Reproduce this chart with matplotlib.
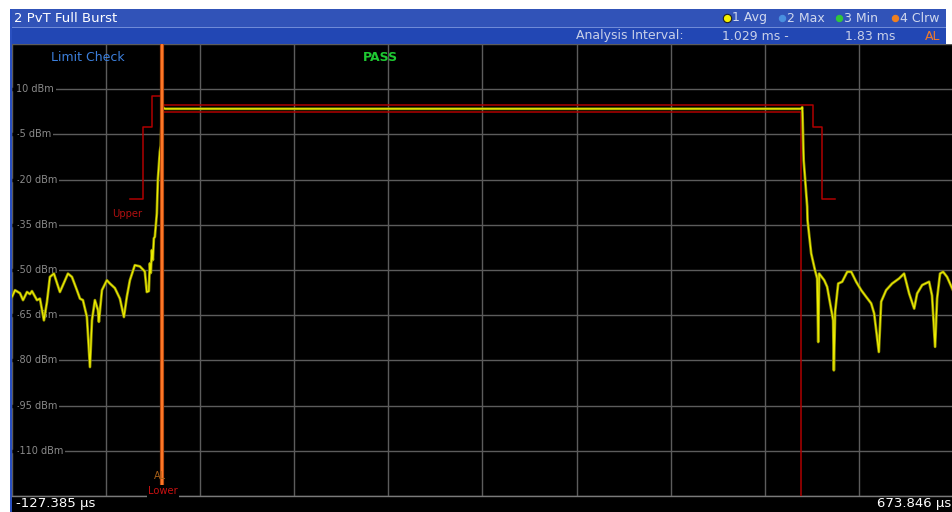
import numpy as np
import matplotlib
matplotlib.use("Agg")
import matplotlib.pyplot as plt
from matplotlib.patches import Rectangle

# ---------------- data ----------------
x_start_us = -127.385
x_stop_us = 673.846
y_top_dbm = 25
y_bottom_dbm = -125
y_tick_values = [10, -5, -20, -35, -50, -65, -80, -95, -110]
y_tick_labels = ["10 dBm", "-5 dBm", "-20 dBm", "-35 dBm", "-50 dBm",
                 "-65 dBm", "-80 dBm", "-95 dBm", "-110 dBm"]

trace_time_us = [
    -127.4, -124.8, -120.6, -118.0, -114.6, -112.1, -110.4, -106.1, -103.6, -100.2,
    -97.6, -95.1, -91.7, -86.6, -84.0, -79.75, -76.35, -72.1, -69.5, -67.0,
    -63.6, -61.0, -59.3, -56.8, -54.2, -53.4, -50.8, -46.6, -44.0, -39.8,
    -35.5, -32.1, -29.6, -27.0, -22.8, -18.5, -14.3, -12.6, -10.9, -10.0,
    -9.2, -8.3, -7.45, -6.6, -5.75, -4.05, -3.2, -1.5, -0.7, 0.2,
    1.0, 2.8, 544.6, 545.5, 545.7, 546.7, 548.0, 549.7, 550.0, 553.1,
    556.3, 558.2, 559.1, 559.9, 564.2, 566.7, 571.8, 572.4, 573.5, 576.1,
    579.5, 583.8, 587.2, 591.4, 595.7, 599.9, 604.2, 606.7, 610.7, 612.7,
    616.9, 622.0, 628.0, 632.2, 636.5, 640.8, 643.3, 647.6, 653.5, 656.0,
    658.6, 660.3, 662.8, 665.4, 668.8, 673.8,
]
trace_dbm = [
    -58.9, -56.7, -57.7, -60.0, -57.3, -58.0, -57.0, -60.0, -59.5, -66.7,
    -60.6, -52.3, -51.2, -57.3, -55.0, -51.2, -52.3, -56.7, -59.5, -60.0,
    -65.6, -82.2, -66.7, -60.0, -63.3, -67.2, -56.7, -53.4, -54.5, -56.0,
    -59.5, -65.6, -58.9, -53.4, -48.4, -48.8, -50.5, -57.3, -57.0, -47.8,
    -51.0, -43.4, -46.7, -39.5, -39.0, -31.2, -20.2, -10.8, -8.6, 3.0,
    4.0, 3.5, 3.5, 4.0, 2.0, -13.6, -20.2, -29.0, -33.5, -44.5,
    -50.0, -52.8, -73.9, -51.2, -53.4, -55.6, -66.7, -83.3, -63.8, -54.5,
    -53.9, -50.6, -50.6, -53.9, -56.7, -58.9, -61.1, -64.4, -77.2, -60.5,
    -56.7, -54.5, -52.8, -51.2, -57.8, -62.8, -57.8, -55.0, -53.9, -58.5,
    -75.5, -59.5, -51.2, -50.6, -52.3, -56.7,
]

upper_time_us = [-27.0, -16.2, -16.2, -8.6, -8.6, 1.3, 1.3, 555.0, 555.0, 562.4, 562.4, 573.2]
upper_dbm = [-26.3, -26.3, -2.5, -2.5, 7.8, 7.8, 4.7, 4.7, -2.4, -2.4, -26.3, -26.3]

lower_time_us = [0.5, 0.5, 544.3, 544.3]
lower_dbm = [-125, 2.3, 2.3, -125]

al_line_us = 0.2

legend_items = ["1 Avg", "2 Max", "3 Min", "4 Clrw"]
legend_colors = ["#f4f000", "#4a90e0", "#30c83a", "#f08020"]

# ---------------- figure ----------------
W, H = 953, 512
fig = plt.figure(figsize=(W / 100, H / 100), dpi=100, facecolor="white")
plt.rcParams['font.family'] = ['DejaVu Sans']

# chrome overlay (pixel coordinates)
ov = fig.add_axes([0, 0, 1, 1], zorder=0)
ov.set_xlim(0, W)
ov.set_ylim(H, 0)
ov.axis("off")
ov.add_patch(Rectangle((11, 9), 935, 17.5, facecolor="#3153b8", edgecolor="none"))
ov.add_patch(Rectangle((11, 26.5), 935, 1.5, facecolor="#6f8bd8", edgecolor="none"))
ov.add_patch(Rectangle((11, 28), 935, 16, facecolor="#2247b4", edgecolor="none"))
ov.add_patch(Rectangle((11, 44), W - 11, H - 44, facecolor="black", edgecolor="none"))
ov.add_patch(Rectangle((10.5, 9), 1.6, H - 9, facecolor="#2a50c0", edgecolor="none"))

ov.text(14, 18, "2 PvT Full Burst", color="white", fontsize=9.5, va="center", ha="left")

leg_x = [727, 782, 839, 895]
for lx, lab, col in zip(leg_x, legend_items, legend_colors):
    ms = 6 if lab.startswith("1") else 4.5
    ov.plot([lx], [17.5], marker="o", ms=ms, mfc=col,
            mec="#202020" if lab.startswith("1") else col, mew=0.8)
    ov.text(lx + 5, 18, lab, color="#d0d8ee", fontsize=9, va="center", ha="left")

ov.text(684, 36, "Analysis Interval:", color="#c8d0e8", fontsize=9, va="center", ha="right")
ov.text(722, 36, "1.029 ms -", color="#c8d0e8", fontsize=9, va="center", ha="left")
ov.text(895, 36, "1.83 ms", color="#c8d0e8", fontsize=9, va="center", ha="right")
ov.text(925, 36, "AL", color="#f07a2a", fontsize=9, va="center", ha="left")

ov.text(16, 504, "-127.385 \u00b5s", color="white", fontsize=9.5, va="center", ha="left")
ov.text(951, 504, "673.846 \u00b5s", color="white", fontsize=9.5, va="center", ha="right")

# ---------------- plot axes ----------------
left = 12 / W
right = 953 / W
bottom = (H - 496) / H
top = (H - 44) / H
ax = fig.add_axes([left, bottom, right - left, top - bottom], zorder=1)
ax.set_facecolor("black")
ax.set_xlim(x_start_us, x_stop_us)
ax.set_ylim(y_bottom_dbm, y_top_dbm)
ax.set_xticks(np.linspace(x_start_us, x_stop_us, 11))
ax.set_yticks(np.arange(y_bottom_dbm, y_top_dbm + 1, 15))
ax.grid(True, color="#5c5c5c", linewidth=1.0)
ax.tick_params(left=False, bottom=False, labelleft=False, labelbottom=False)
for side in ["top", "right", "left"]:
    ax.spines[side].set_visible(False)
ax.spines["bottom"].set_color("#7a7a7a")
ax.spines["bottom"].set_linewidth(1.0)

# black pad behind the y labels, so the grid starts right after the label
for v, lab in zip(y_tick_values, y_tick_labels):
    ax.text(0.0, v, "", transform=ax.get_yaxis_transform())
    ax.text(4.5 / 941, v, lab, transform=ax.get_yaxis_transform(), color="#8a8a8a",
            fontsize=7.0, va="center", ha="left", zorder=2,
            bbox=dict(facecolor="black", edgecolor="none", pad=1.0))
    ax.plot([0, 5.5 / 941], [v, v], transform=ax.get_yaxis_transform(),
            color="black", lw=2.5, zorder=2, solid_capstyle="butt")

ax.text(0.041, 0.985, "Limit Check", transform=ax.transAxes, color="#3c7fdc",
        fontsize=9, va="top", ha="left")
ax.text(0.392, 0.985, "PASS", transform=ax.transAxes, color="#1ec832",
        fontsize=9, fontweight="bold", va="top", ha="center")

# limit lines
ax.plot(upper_time_us, upper_dbm, color="#b00000", lw=1.1, zorder=3)
ax.plot(lower_time_us, lower_dbm, color="#b00000", lw=1.1, zorder=3)

# trace
ax.plot(trace_time_us, trace_dbm, color="#8c8c00", lw=2.0, zorder=4)
ax.plot(trace_time_us, trace_dbm, color="#ecec00", lw=0.9, zorder=5)

# AL line
ax.plot([al_line_us, al_line_us], [-121.5, y_top_dbm], color="#b84a10", lw=3.0, zorder=6,
        solid_capstyle="butt")
ax.plot([al_line_us, al_line_us], [-121.5, y_top_dbm], color="#ff7a28", lw=1.4, zorder=7,
        solid_capstyle="butt")

ax.text(-1.5, -118.5, "AL", color="#a86018", fontsize=7, ha="center", va="center", zorder=8)
ax.text(1.5, -123.5, "Lower", color="#c81010", fontsize=7.2, ha="center", va="center", zorder=8,
        bbox=dict(facecolor="black", edgecolor="none", pad=0.8))
ax.text(-29.5, -31.3, "Upper", color="#b01010", fontsize=7.2, ha="center", va="center", zorder=8)

fig.savefig("out.png", dpi=100, facecolor="white")
